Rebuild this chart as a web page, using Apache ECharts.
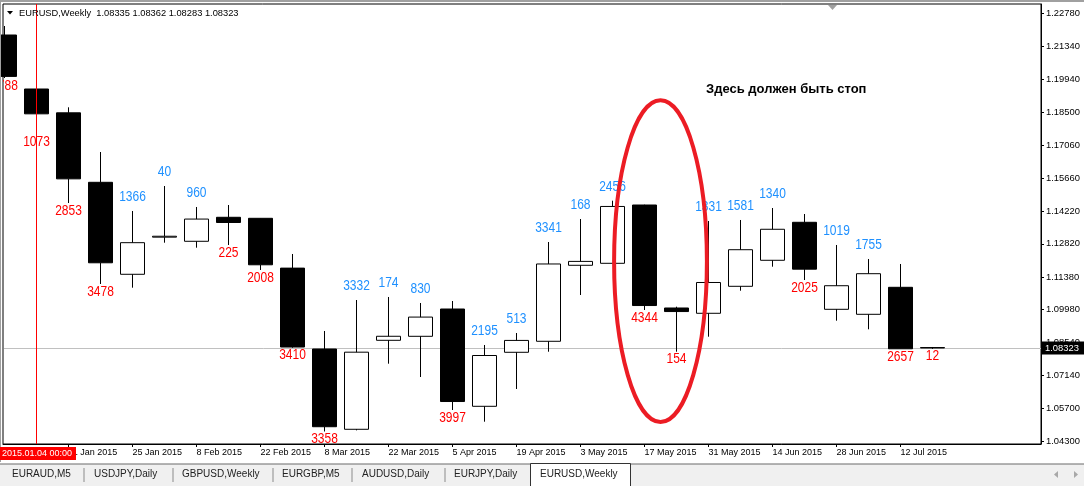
<!DOCTYPE html>
<html>
<head>
<meta charset="utf-8">
<title>EURUSD,Weekly</title>
<script src="https://cdn.jsdelivr.net/npm/echarts@6/dist/echarts.min.js"></script>
<style>
  html, body { margin: 0; padding: 0; background: #fff; }
  #chart { width: 1084px; height: 486px; }
</style>
</head>
<body>
<div id="chart"></div>
<script>
// EURUSD weekly bars (week start dates)
var weeks = ['28 Dec 2014', '4 Jan 2015', '11 Jan 2015', '18 Jan 2015', '25 Jan 2015', '1 Feb 2015',
  '8 Feb 2015', '15 Feb 2015', '22 Feb 2015', '1 Mar 2015', '8 Mar 2015', '15 Mar 2015', '22 Mar 2015',
  '29 Mar 2015', '5 Apr 2015', '12 Apr 2015', '19 Apr 2015', '26 Apr 2015', '3 May 2015', '10 May 2015',
  '17 May 2015', '24 May 2015', '31 May 2015', '7 Jun 2015', '14 Jun 2015', '21 Jun 2015', '28 Jun 2015',
  '5 Jul 2015', '12 Jul 2015', '19 Jul 2015'];
var opens  = [1.21842, 1.19509, 1.18480, 1.15478, 1.11503, 1.13107, 1.12929, 1.13966, 1.13922, 1.11770,
  1.08275, 1.04806, 1.08651, 1.08824, 1.10003, 1.05799, 1.08133, 1.08608, 1.11892, 1.11978,
  1.14497, 1.10047, 1.09818, 1.10984, 1.12108, 1.13750, 1.09990, 1.09774, 1.10941, 1.08335];
var closes = [1.20054, 1.18436, 1.15627, 1.12000, 1.12869, 1.13147, 1.13889, 1.13741, 1.11914, 1.08360,
  1.04917, 1.08138, 1.08825, 1.09654, 1.06006, 1.07994, 1.08646, 1.11949, 1.12060, 1.14434,
  1.10153, 1.09893, 1.11149, 1.12565, 1.13448, 1.11725, 1.11009, 1.11529, 1.08284, 1.08323];
var lows   = [1.19984, 1.17543, 1.14583, 1.11084, 1.10924, 1.12868, 1.12652, 1.12769, 1.11689, 1.08330,
  1.04710, 1.04760, 1.07640, 1.07065, 1.05639, 1.05134, 1.06547, 1.08158, 1.10608, 1.11970,
  1.09960, 1.08158, 1.08807, 1.10794, 1.11831, 1.11256, 1.09498, 1.09126, 1.08280, 1.08283];
var highs  = [1.22231, 1.19680, 1.18718, 1.16787, 1.14238, 1.15318, 1.14411, 1.14497, 1.13930, 1.12380,
  1.09053, 1.10392, 1.10522, 1.10263, 1.10349, 1.08448, 1.08966, 1.12898, 1.13892, 1.14683,
  1.14510, 1.10103, 1.13806, 1.13849, 1.14367, 1.14108, 1.12769, 1.12164, 1.11948, 1.08362];
// body size in points written by the indicator
var bodyPoints = [1788, 1073, 2853, 3478, 1366, 40, 960, 225, 2008, 3410, 3358, 3332, 174, 830, 3997,
  2195, 513, 3341, 168, 2456, 4344, 154, 1331, 1581, 1340, 2025, 1019, 1755, 2657, 12];

var priceTicks = [1.04300, 1.05700, 1.07140, 1.08540, 1.09980, 1.11380, 1.12820, 1.14220,
  1.15660, 1.17060, 1.18500, 1.19940, 1.21340, 1.22780];
var dateTicks = [2, 4, 6, 8, 10, 12, 14, 16, 18, 20, 22, 24, 26, 28];
var lastPrice = 1.08323;
var markedWeek = 1;
var tabs = ['EURAUD,M5', 'USDJPY,Daily', 'GBPUSD,Weekly', 'EURGBP,M5', 'AUDUSD,Daily', 'EURJPY,Daily', 'EURUSD,Weekly'];

var FONT = "'Liberation Sans', Arial, sans-serif";

var candles = [];
var tags = [];
for (var i = 0; i < weeks.length; i++) {
  candles.push([i, opens[i], closes[i], lows[i], highs[i]]);
  var bull = closes[i] >= opens[i];
  tags.push([i, bull ? highs[i] : lows[i], bodyPoints[i], bull ? 1 : 0]);
}

// narrow MT4-like labels: blue above bull bars, red below bear bars
function renderTag(params, api) {
  var pt = api.coord([api.value(0), api.value(1)]);
  var up = api.value(3) > 0;
  return {
    type: 'text',
    x: pt[0],
    y: up ? pt[1] - 14 : pt[1] + 7.5,
    scaleX: 0.8,
    style: {
      text: String(api.value(2)),
      fill: up ? '#1e90ff' : '#ff0000',
      font: '15px ' + FONT,
      align: 'center',
      verticalAlign: 'middle'
    }
  };
}

var chart = echarts.init(document.getElementById('chart'), null, { renderer: 'canvas' });

var option = {
  animation: false,
  backgroundColor: '#fff',
  grid: {
    left: 3, top: 4, right: 43, bottom: 42,
    show: true, borderColor: '#000', borderWidth: 1, backgroundColor: '#fff'
  },
  xAxis: {
    type: 'value',
    min: -1.5 / 32,
    max: -1.5 / 32 + 1038 / 32,
    axisLine: { show: true, onZero: false, lineStyle: { color: '#000' } },
    axisTick: { show: true, length: 3, customValues: dateTicks, lineStyle: { color: '#000' } },
    axisLabel: {
      customValues: dateTicks,
      formatter: function (v) { return weeks[v]; },
      align: 'left',
      margin: 4,
      color: '#000',
      fontFamily: FONT,
      fontSize: 9
    },
    splitLine: { show: false }
  },
  yAxis: {
    type: 'value',
    position: 'right',
    min: 1.0417038,
    max: 1.2318183,
    axisLine: { show: true, onZero: false, lineStyle: { color: '#000' } },
    axisTick: { show: true, length: 3, customValues: priceTicks, lineStyle: { color: '#000' } },
    axisLabel: {
      customValues: priceTicks,
      formatter: function (v) { return v.toFixed(5); },
      margin: 5,
      color: '#000',
      fontFamily: FONT,
      fontSize: 9.4
    },
    splitLine: { show: false }
  },
  series: [
    {
      type: 'candlestick',
      data: candles,
      encode: { x: 0, y: [1, 2, 3, 4] },
      barWidth: 24,
      clip: true,
      z: 3,
      itemStyle: {
        color: '#fff',
        color0: '#000',
        borderColor: '#000',
        borderColor0: '#000',
        borderWidth: 1
      },
      markLine: {
        silent: true,
        symbol: 'none',
        animation: false,
        lineStyle: { color: '#ff0000', width: 1, type: 'solid' },
        label: { show: false },
        data: [{ xAxis: markedWeek }]
      }
    },
    {
      type: 'custom',
      data: tags,
      encode: { x: 0, y: 1 },
      renderItem: renderTag,
      clip: true,
      silent: true,
      z: 6
    }
  ]
};
chart.setOption(option);

// annotation ellipse placed in data space
var stopZone = { week: 20.5, price: 1.1207, halfWeeks: 1.45, halfPrice: 0.0695 };
var c = chart.convertToPixel({ gridIndex: 0 }, [stopZone.week, stopZone.price]);
var e = chart.convertToPixel({ gridIndex: 0 }, [stopZone.week + stopZone.halfWeeks, stopZone.price + stopZone.halfPrice]);
var bidY = Math.round(chart.convertToPixel({ yAxisIndex: 0 }, lastPrice)) + 0.5;

var g = [];
// bid line behind the bars
g.push({ type: 'line', shape: { x1: 4, y1: bidY, x2: 1041, y2: bidY }, style: { stroke: '#c0c0c0', lineWidth: 1 }, z: 1 });
// window border
g.push({ type: 'rect', shape: { x: 0, y: 0, width: 1084, height: 2 }, style: { fill: '#a0a0a0' }, z: 100 });
g.push({ type: 'rect', shape: { x: 0, y: 0, width: 1, height: 462 }, style: { fill: '#a0a0a0' }, z: 100 });
// shift marker
g.push({ type: 'polygon', shape: { points: [[828, 5], [837, 5], [832.5, 10]] }, style: { fill: '#a0a0a0' }, z: 100 });
// title
g.push({ type: 'polygon', shape: { points: [[7, 11], [13, 11], [10, 14.5]] }, style: { fill: '#000' }, z: 100 });
g.push({
  type: 'text', x: 19, y: 13, z: 100,
  style: { text: 'EURUSD,Weekly  1.08335 1.08362 1.08283 1.08323', fill: '#000', font: '9.3px ' + FONT, verticalAlign: 'middle' }
});
// note
g.push({
  type: 'text', x: 706, y: 89.5, z: 100,
  style: { text: 'Здесь должен быть стоп', fill: '#000', font: 'bold 13px ' + FONT, verticalAlign: 'middle' }
});
g.push({
  type: 'ellipse', z: 90,
  shape: { cx: c[0], cy: c[1], rx: Math.abs(e[0] - c[0]), ry: Math.abs(c[1] - e[1]) },
  style: { fill: null, stroke: '#ec1c24', lineWidth: 4 }
});
// bid price tag on the price scale
g.push({ type: 'rect', shape: { x: 1042, y: bidY - 7, width: 42, height: 13 }, style: { fill: '#000' }, z: 100 });
g.push({
  type: 'text', x: 1045, y: bidY, z: 101,
  style: { text: lastPrice.toFixed(5), fill: '#fff', font: '9.4px ' + FONT, verticalAlign: 'middle' }
});
// crosshair date box
g.push({ type: 'rect', shape: { x: 0, y: 447, width: 76, height: 13 }, style: { fill: '#ff0000' }, z: 100 });
g.push({
  type: 'text', x: 2, y: 453.5, z: 101,
  style: { text: '2015.01.04 00:00', fill: '#fff', font: '9px ' + FONT, verticalAlign: 'middle' }
});
// tab bar
g.push({ type: 'rect', shape: { x: 0, y: 464, width: 1084, height: 22 }, style: { fill: '#f0f0f0' }, z: 100 });
g.push({ type: 'rect', shape: { x: 0, y: 463.5, width: 1084, height: 1 }, style: { fill: '#6a6a6a' }, z: 101 });
var tabX = [12, 94, 182, 282, 362, 454, 540];
var sepX = [83.5, 172.5, 272.5, 351.5, 444.5];
sepX.forEach(function (x) {
  g.push({ type: 'rect', shape: { x: x, y: 468, width: 1, height: 14 }, style: { fill: '#8a8a8a' }, z: 101 });
});
g.push({ type: 'rect', shape: { x: 530.5, y: 463.5, width: 100, height: 24 }, style: { fill: '#fff', stroke: '#333', lineWidth: 1 }, z: 102 });
tabs.forEach(function (t, i) {
  g.push({
    type: 'text', x: tabX[i], y: 474.5, z: 103,
    style: { text: t, fill: '#222', font: '10px ' + FONT, verticalAlign: 'middle' }
  });
});
g.push({ type: 'polygon', shape: { points: [[1058, 471], [1058, 478], [1054, 474.5]] }, style: { fill: '#a8a8a8' }, z: 101 });
g.push({ type: 'polygon', shape: { points: [[1074, 471], [1074, 478], [1078, 474.5]] }, style: { fill: '#a8a8a8' }, z: 101 });

chart.setOption({ graphic: g });
</script>
</body>
</html>
